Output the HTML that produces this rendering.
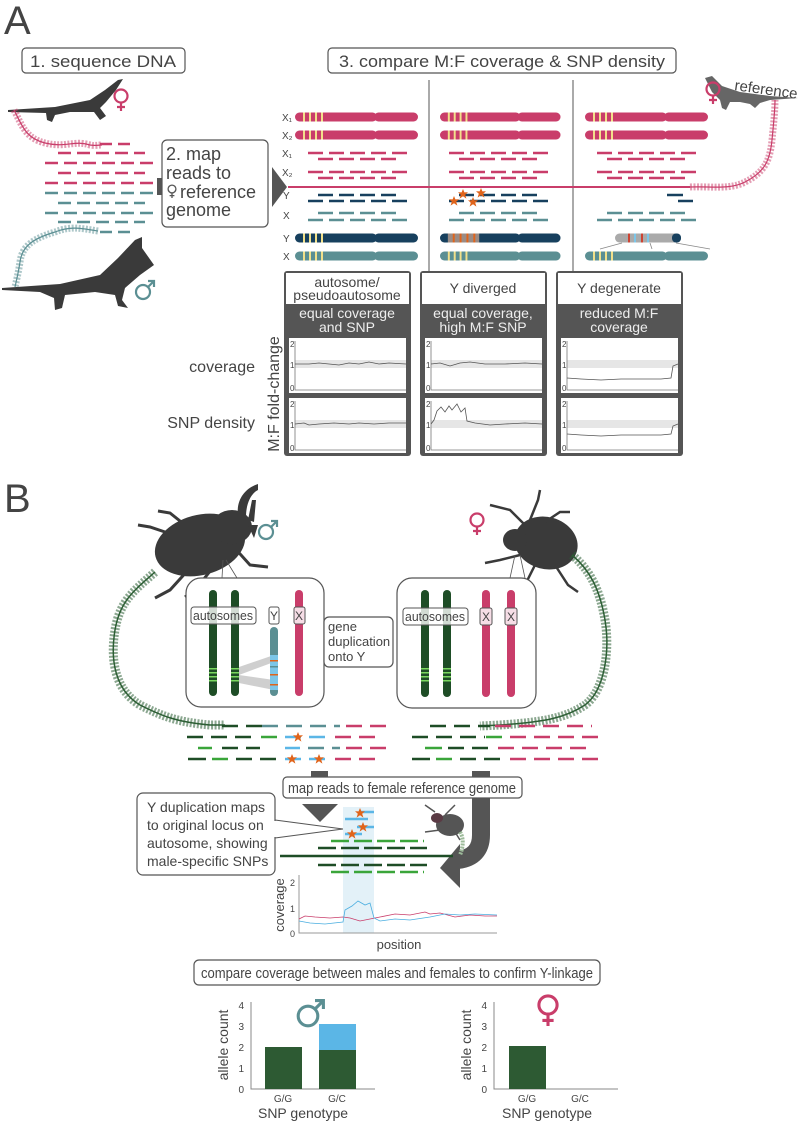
<!DOCTYPE html>
<html><head><meta charset="utf-8"><style>
html,body{margin:0;padding:0;background:#fff}
svg{display:block}
text{font-family:"Liberation Sans",sans-serif;fill:#444}
</style></head><body>
<svg width="800" height="1124" viewBox="0 0 800 1124" xmlns="http://www.w3.org/2000/svg">
<defs>
<g id="chr"><rect x="0" y="-4.5" width="82" height="9" rx="4.5"/><rect x="79" y="-4.5" width="44" height="9" rx="4.5"/></g>
<g id="bands"><rect x="8" y="-4.5" width="2" height="9" fill="#f2e08a"/><rect x="14" y="-4.5" width="2" height="9" fill="#f2e08a"/><rect x="20" y="-4.5" width="2" height="9" fill="#f2e08a"/><rect x="26" y="-4.5" width="2" height="9" fill="#f2e08a"/></g>
<path id="star" d="M0,-5 L1.4,-1.6 5,-1.8 2.2,0.8 3.4,4.6 0,2.3 -3.4,4.6 -2.2,0.8 -5,-1.8 -1.4,-1.6Z" fill="#e0641b"/>
<g id="fem" fill="none" stroke-width="2.2"><circle cx="0" cy="0" r="6.5"/><path d="M0,6.5 V15 M-4,11 H4"/></g>
<g id="mal" fill="none" stroke-width="2.2"><circle cx="0" cy="0" r="7"/><path d="M5,-5 L11,-11 M5,-11 H11 V-5"/></g>
</defs>

<!-- ===== A ===== -->
<text x="4" y="34" font-size="40" fill="#555">A</text>
<rect x="22" y="48" width="163" height="25" rx="4" fill="#fff" stroke="#555" stroke-width="1.2"/>
<text x="103" y="67" font-size="17" text-anchor="middle" textLength="146" lengthAdjust="spacingAndGlyphs">1. sequence DNA</text>
<rect x="328" y="48" width="348" height="25" rx="4" fill="#fff" stroke="#555" stroke-width="1.2"/>
<text x="502" y="67" font-size="17" text-anchor="middle" textLength="326" lengthAdjust="spacingAndGlyphs">3. compare M:F coverage &amp; SNP density</text>

<!-- female lizard -->
<path d="M8,110 L55,107 L90,100 L105,90 L118,80 L123,79 L116,90 L106,102 L100,108 L106,116 L100,120 L94,112 L70,112 L55,115 L52,122 L47,120 L46,113 L8,112Z" fill="#3a3a3a"/>
<use href="#fem" x="121" y="96" stroke="#c93d6a"/>
<!-- pink DNA -->
<path d="M14,110 C22,125 25,138 45,143 C65,148 75,140 90,145 C95,146 98,145 102,145" fill="none" stroke="#c93d6a" stroke-width="7" stroke-dasharray="2 1.5" opacity="0.5"/>
<path d="M14,110 C22,125 25,138 45,143 C65,148 75,140 90,145 C95,146 98,145 102,145" fill="none" stroke="#c93d6a" stroke-width="1.2"/>
<!-- left reads -->
<g stroke-width="2.5" fill="none">
<line x1="100" y1="144" x2="130" y2="144" stroke="#c93d6a" stroke-dasharray="12 6"/>
<line x1="58" y1="153" x2="145" y2="153" stroke="#c93d6a" stroke-dasharray="13 6"/>
<line x1="45" y1="163" x2="155" y2="163" stroke="#c93d6a" stroke-dasharray="13 6"/>
<line x1="58" y1="173" x2="145" y2="173" stroke="#c93d6a" stroke-dasharray="13 6"/>
<line x1="45" y1="183" x2="155" y2="183" stroke="#c93d6a" stroke-dasharray="13 6"/>
<line x1="45" y1="193" x2="155" y2="193" stroke="#5b8f93" stroke-dasharray="13 6"/>
<line x1="58" y1="203" x2="145" y2="203" stroke="#5b8f93" stroke-dasharray="13 6"/>
<line x1="45" y1="213" x2="155" y2="213" stroke="#5b8f93" stroke-dasharray="13 6"/>
<line x1="58" y1="222" x2="145" y2="222" stroke="#5b8f93" stroke-dasharray="13 6"/>
<line x1="100" y1="232" x2="130" y2="232" stroke="#5b8f93" stroke-dasharray="12 6"/>
</g>
<!-- teal DNA -->
<path d="M98,231 C80,228 70,226 55,232 C35,238 22,245 20,262 C18,275 16,282 15,287" fill="none" stroke="#5b8f93" stroke-width="7" stroke-dasharray="2 1.5" opacity="0.5"/>
<path d="M98,231 C80,228 70,226 55,232 C35,238 22,245 20,262 C18,275 16,282 15,287" fill="none" stroke="#5b8f93" stroke-width="1.2"/>
<!-- male lizard -->
<path d="M2,288 L60,284 L100,275 L118,258 L135,240 L142,237 L142,248 L154,265 L140,275 L125,288 L122,300 L128,308 L118,306 L115,295 L95,292 L65,295 L62,308 L55,310 L54,298 L40,292 L2,290Z" fill="#3a3a3a"/>
<use href="#mal" x="143" y="292" stroke="#5b8f93"/>

<!-- box 2 -->
<rect x="157" y="178" width="6" height="17" fill="#555"/>
<rect x="162" y="140" width="106" height="87" rx="5" fill="#fff" stroke="#555" stroke-width="1.2"/>
<text font-size="18"><tspan x="166" y="160">2. map</tspan><tspan x="166" y="179">reads to</tspan><tspan x="180" y="198">reference</tspan><tspan x="166" y="216">genome</tspan></text>
<use href="#fem" x="172" y="189" stroke="#555" transform="translate(172,189) scale(0.6) translate(-172,-189)"/>
<polygon points="272,167 287,187 272,207" fill="#555"/>

<!-- labels -->
<g font-size="10" fill="#444">
<text x="282" y="121">X₁</text><text x="282" y="139">X₂</text>
<text x="282" y="157">X₁</text><text x="282" y="176">X₂</text>
<text x="283" y="199">Y</text><text x="283" y="219">X</text>
<text x="283" y="242">Y</text><text x="283" y="260">X</text>
</g>
<line x1="429" y1="80" x2="429" y2="450" stroke="#555" stroke-width="1"/>
<line x1="573" y1="80" x2="573" y2="450" stroke="#555" stroke-width="1"/>

<!-- chromosomes -->
<g transform="translate(295,0)">
<use href="#chr" y="117" fill="#c93d6a"/><use href="#bands" y="117"/>
<use href="#chr" y="135" fill="#c93d6a"/><use href="#bands" y="135"/>
<use href="#chr" y="238" fill="#17405e"/><use href="#bands" y="238"/>
<use href="#chr" y="256" fill="#5b8f93"/><use href="#bands" y="256"/>
</g>
<g transform="translate(440,0) scale(0.98,1)">
<use href="#chr" y="117" fill="#c93d6a"/><use href="#bands" y="117"/>
<use href="#chr" y="135" fill="#c93d6a"/><use href="#bands" y="135"/>
<use href="#chr" y="238" fill="#17405e"/>
<rect x="8" y="233.5" width="32" height="9" fill="#9a8c86"/>
<rect x="13" y="233.5" width="2" height="9" fill="#e0641b"/><rect x="20" y="233.5" width="2" height="9" fill="#e0641b"/><rect x="27" y="233.5" width="2" height="9" fill="#e0641b"/><rect x="34" y="233.5" width="2" height="9" fill="#e0641b"/>
<use href="#chr" y="256" fill="#5b8f93"/><use href="#bands" y="256"/>
</g>
<g transform="translate(585,0)">
<use href="#chr" y="117" fill="#c93d6a"/><use href="#bands" y="117"/>
<use href="#chr" y="135" fill="#c93d6a"/><use href="#bands" y="135"/>
<use href="#chr" y="256" fill="#5b8f93"/><use href="#bands" y="256"/>
</g>
<rect x="615" y="233.5" width="66" height="9" rx="4.5" fill="#aaa"/>
<rect x="672" y="233.5" width="9" height="9" rx="4" fill="#17405e"/>
<rect x="628" y="233.5" width="2" height="9" fill="#c43"/><rect x="634" y="233.5" width="2" height="9" fill="#7cc6e8"/><rect x="641" y="233.5" width="2" height="9" fill="#c43"/><rect x="647" y="233.5" width="2" height="9" fill="#7cc6e8"/>
<path d="M622,243 L600,249 M650,243 L652,249 M676,243 L710,249" stroke="#888" stroke-width="0.8" fill="none"/>

<!-- A reads -->
<g stroke-width="2.5" fill="none" stroke-dasharray="15 6">
<g stroke="#c93d6a">
<line x1="308" y1="153" x2="408" y2="153"/><line x1="318" y1="159" x2="397" y2="159"/>
<line x1="308" y1="172" x2="408" y2="172"/><line x1="318" y1="178" x2="397" y2="178"/>
<line x1="449" y1="153" x2="549" y2="153"/><line x1="459" y1="159" x2="538" y2="159"/>
<line x1="449" y1="172" x2="549" y2="172"/><line x1="459" y1="178" x2="538" y2="178"/>
<line x1="597" y1="153" x2="697" y2="153"/><line x1="607" y1="159" x2="686" y2="159"/>
<line x1="597" y1="172" x2="697" y2="172"/><line x1="607" y1="178" x2="686" y2="178"/>
</g>
<g stroke="#17405e">
<line x1="318" y1="195" x2="397" y2="195"/><line x1="308" y1="201" x2="408" y2="201"/>
<line x1="459" y1="195" x2="538" y2="195"/><line x1="449" y1="201" x2="549" y2="201"/>
<line x1="667" y1="195" x2="683" y2="195" stroke-dasharray="none"/><line x1="678" y1="201" x2="693" y2="201" stroke-dasharray="none"/>
</g>
<g stroke="#5b8f93">
<line x1="318" y1="213" x2="397" y2="213"/><line x1="308" y1="220" x2="408" y2="220"/>
<line x1="459" y1="213" x2="538" y2="213"/><line x1="449" y1="220" x2="549" y2="220"/>
<line x1="607" y1="213" x2="686" y2="213"/><line x1="597" y1="220" x2="697" y2="220"/>
</g>
</g>
<use href="#star" x="454" y="201"/><use href="#star" x="463" y="194"/><use href="#star" x="473" y="202"/><use href="#star" x="481" y="193"/>
<!-- pink ref line -->
<line x1="288" y1="187" x2="690" y2="187" stroke="#c93d6a" stroke-width="2"/>
<path d="M690,187 C710,186 730,190 745,182 C765,172 770,160 772,140 C774,120 775,110 775,100" fill="none" stroke="#c93d6a" stroke-width="7" stroke-dasharray="2 1.5" opacity="0.5"/>
<path d="M690,187 C710,186 730,190 745,182 C765,172 770,160 772,140 C774,120 775,110 775,100" fill="none" stroke="#c93d6a" stroke-width="1.2"/>
<!-- reference lizard -->
<path d="M705,78 L712,76 L722,86 L740,92 L770,96 L798,98 L770,100 L760,103 L755,108 L750,104 L740,102 L730,102 L726,110 L722,108 L720,100 L712,92Z" fill="#666"/>
<text x="734" y="90" font-size="15" fill="#555" transform="rotate(8 734 90)">reference</text>
<use href="#fem" x="713" y="89" stroke="#c93d6a"/>

<!-- panels -->
<rect x="284" y="271" width="127" height="185" rx="3" fill="#555"/>
<rect x="286" y="273" width="123" height="31" fill="#fff"/>
<rect x="420" y="271" width="127" height="185" rx="3" fill="#555"/>
<rect x="422" y="273" width="123" height="31" fill="#fff"/>
<rect x="556" y="271" width="127" height="185" rx="3" fill="#555"/>
<rect x="558" y="273" width="123" height="31" fill="#fff"/>
<g font-size="14" text-anchor="middle" fill="#555">
<text x="347" y="287">autosome/</text><text x="347" y="300">pseudoautosome</text>
<text x="483" y="293">Y diverged</text>
<text x="619" y="293">Y degenerate</text>
</g>
<g font-size="14" text-anchor="middle">
<text x="347" y="318" style="fill:#eee">equal coverage</text><text x="347" y="332" style="fill:#eee">and SNP</text>
<text x="483" y="318" style="fill:#eee">equal coverage,</text><text x="483" y="332" style="fill:#eee">high M:F SNP</text>
<text x="619" y="318" style="fill:#eee">reduced M:F</text><text x="619" y="332" style="fill:#eee">coverage</text>
</g>
<g font-size="8" fill="#666">
<g transform="translate(289,338)"><rect width="117" height="55" fill="#fff"/><rect x="6" y="22" width="111" height="8" fill="#e6e6e6"/><path d="M6,3 V52 H117" stroke="#777" fill="none" stroke-width="0.8"/><text x="1" y="9">2</text><text x="1" y="30">1</text><text x="1" y="53">0</text>
<polyline points="6,26 20,26 30,25 40,26 50,27 60,25 70,26 80,24 90,26 100,25 117,26" fill="none" stroke="#555" stroke-width="0.8"/></g>
<g transform="translate(289,398)"><rect width="117" height="55" fill="#fff"/><rect x="6" y="22" width="111" height="8" fill="#e6e6e6"/><path d="M6,3 V52 H117" stroke="#777" fill="none" stroke-width="0.8"/><text x="1" y="9">2</text><text x="1" y="30">1</text><text x="1" y="53">0</text>
<polyline points="6,26 15,25 20,27 30,26 45,25 60,26 70,25 85,26 100,25 117,25" fill="none" stroke="#555" stroke-width="0.8"/></g>
<g transform="translate(425,338)"><rect width="117" height="55" fill="#fff"/><rect x="6" y="22" width="111" height="8" fill="#e6e6e6"/><path d="M6,3 V52 H117" stroke="#777" fill="none" stroke-width="0.8"/><text x="1" y="9">2</text><text x="1" y="30">1</text><text x="1" y="53">0</text>
<polyline points="6,26 15,25 25,28 35,25 45,24 60,26 80,26 100,25 117,26" fill="none" stroke="#555" stroke-width="0.8"/></g>
<g transform="translate(425,398)"><rect width="117" height="55" fill="#fff"/><rect x="6" y="22" width="111" height="8" fill="#e6e6e6"/><path d="M6,3 V52 H117" stroke="#777" fill="none" stroke-width="0.8"/><text x="1" y="9">2</text><text x="1" y="30">1</text><text x="1" y="53">0</text>
<polyline points="6,26 9,22 12,13 16,9 20,14 24,8 27,12 32,6 36,14 40,10 42,23 50,25 65,27 80,26 100,25 117,26" fill="none" stroke="#555" stroke-width="0.8"/></g>
<g transform="translate(561,338)"><rect width="117" height="55" fill="#fff"/><rect x="6" y="22" width="111" height="8" fill="#e6e6e6"/><path d="M6,3 V52 H117" stroke="#777" fill="none" stroke-width="0.8"/><text x="1" y="9">2</text><text x="1" y="30">1</text><text x="1" y="53">0</text>
<polyline points="6,40 20,41 40,42 60,41 80,41 100,41 110,40 112,28 117,26" fill="none" stroke="#555" stroke-width="0.8"/></g>
<g transform="translate(561,398)"><rect width="117" height="55" fill="#fff"/><rect x="6" y="22" width="111" height="8" fill="#e6e6e6"/><path d="M6,3 V52 H117" stroke="#777" fill="none" stroke-width="0.8"/><text x="1" y="9">2</text><text x="1" y="30">1</text><text x="1" y="53">0</text>
<polyline points="6,36 20,37 40,38 60,37 80,37 100,37 110,36 112,28 117,26" fill="none" stroke="#555" stroke-width="0.8"/></g>
</g>
<text x="255" y="372" font-size="16" text-anchor="end">coverage</text>
<text x="255" y="428" font-size="16" text-anchor="end">SNP density</text>
<text x="0" y="0" font-size="16" text-anchor="middle" transform="translate(279,394) rotate(-90)">M:F fold-change</text>

<!-- ===== B ===== -->
<text x="4" y="512" font-size="40" fill="#555">B</text>
<!-- male beetle -->
<g fill="#3a3a3a">
<ellipse cx="200" cy="545" rx="46" ry="30" transform="rotate(-15 200 545)"/>
<ellipse cx="232" cy="527" rx="20" ry="17"/>
<path d="M238,515 C236,500 245,488 258,484 L258,490 C250,494 246,505 246,517Z"/>
<path d="M248,520 L252,500 L256,500 L254,522Z"/>
<path d="M248,525 L258,525 L254,538Z"/>
<g stroke="#3a3a3a" stroke-width="3" fill="none">
<path d="M185,525 L170,513 L158,511"/><path d="M168,533 L150,527 L138,525"/>
<path d="M190,568 L170,590 L155,598"/><path d="M215,565 L195,590 L185,597"/>
<path d="M232,545 L250,565 L268,567"/>
</g>
</g>
<path d="M223,560 L222,578 M226,560 L237,578" stroke="#555" stroke-width="0.8"/>
<use href="#mal" x="266" y="532" stroke="#5b8f93"/>
<!-- female beetle -->
<g fill="#3a3a3a">
<ellipse cx="546" cy="543" rx="32" ry="26" transform="rotate(15 546 543)"/>
<ellipse cx="515" cy="540" rx="12" ry="11"/>
<g stroke="#3a3a3a" stroke-width="2.5" fill="none">
<path d="M525,525 L510,510 L490,505"/><path d="M530,520 L538,500 L540,490"/>
<path d="M545,522 L560,512 L570,512"/><path d="M520,555 L500,560 L485,563"/>
<path d="M535,565 L525,585 L526,592"/><path d="M555,565 L568,585 L578,592"/>
</g>
</g>
<path d="M515,555 L510,578 M520,555 L525,578" stroke="#555" stroke-width="0.8"/>
<use href="#fem" x="477" y="520" stroke="#c93d6a"/>
<!-- green DNA -->
<path d="M155,572 C135,590 120,600 115,630 C110,660 115,690 140,705 C160,715 175,722 210,725 L225,725" fill="none" stroke="#2c5e34" stroke-width="9" stroke-dasharray="2 1.5" opacity="0.55"/>
<path d="M155,572 C135,590 120,600 115,630 C110,660 115,690 140,705 C160,715 175,722 210,725 L225,725" fill="none" stroke="#2c5e34" stroke-width="1.5"/>
<path d="M572,555 C590,570 600,590 605,620 C610,650 605,690 585,705 C565,718 545,722 500,725 L480,726" fill="none" stroke="#2c5e34" stroke-width="9" stroke-dasharray="2 1.5" opacity="0.55"/>
<path d="M572,555 C590,570 600,590 605,620 C610,650 605,690 585,705 C565,718 545,722 500,725 L480,726" fill="none" stroke="#2c5e34" stroke-width="1.5"/>

<!-- male box -->
<rect x="186" y="578" width="138" height="129" rx="15" fill="#fff" stroke="#555" stroke-width="1.2"/>
<polygon points="239,667 274,655 274,662 239,675" fill="#bbb" opacity="0.7"/>
<polygon points="239,675 274,680 274,690 239,683" fill="#bbb" opacity="0.7"/>
<rect x="209" y="590" width="8" height="106" rx="4" fill="#1e4d26"/>
<rect x="231" y="590" width="8" height="106" rx="4" fill="#1e4d26"/>
<g fill="#7bd860"><rect x="209" y="668" width="8" height="1.5"/><rect x="209" y="672" width="8" height="1.5"/><rect x="209" y="676" width="8" height="1.5"/><rect x="209" y="680" width="8" height="1.5"/>
<rect x="231" y="668" width="8" height="1.5"/><rect x="231" y="672" width="8" height="1.5"/><rect x="231" y="676" width="8" height="1.5"/><rect x="231" y="680" width="8" height="1.5"/></g>
<rect x="270" y="627" width="8" height="69" rx="4" fill="#5b8f93"/>
<g><rect x="270" y="655" width="8" height="35" fill="#7cc6e8"/><rect x="270" y="660" width="8" height="1.5" fill="#e0641b"/><rect x="270" y="666" width="8" height="1.5" fill="#5b8f93"/><rect x="270" y="674" width="8" height="1.5" fill="#e0641b"/><rect x="270" y="684" width="8" height="1.5" fill="#e0641b"/></g>
<rect x="295" y="590" width="8" height="106" rx="4" fill="#c93d6a"/>
<rect x="191" y="607" width="65" height="17" rx="3" fill="#fff" fill-opacity="0.8" stroke="#555"/>
<text x="223" y="620" font-size="13" text-anchor="middle" textLength="60" lengthAdjust="spacingAndGlyphs">autosomes</text>
<rect x="269" y="607" width="10" height="17" rx="2" fill="#fff" stroke="#555"/><text x="274" y="620" font-size="12" text-anchor="middle">Y</text>
<rect x="294" y="607" width="11" height="17" rx="2" fill="#f6dde6" stroke="#555"/><text x="299" y="620" font-size="12" text-anchor="middle">X</text>
<rect x="324" y="617" width="69" height="50" rx="5" fill="#fff" stroke="#555" stroke-width="1.2"/>
<text font-size="13"><tspan x="328" y="631">gene</tspan><tspan x="328" y="646">duplication</tspan><tspan x="328" y="661">onto Y</tspan></text>

<!-- female box -->
<rect x="397" y="578" width="139" height="130" rx="15" fill="#fff" stroke="#555" stroke-width="1.2"/>
<rect x="421" y="590" width="8" height="107" rx="4" fill="#1e4d26"/>
<rect x="443" y="590" width="8" height="107" rx="4" fill="#1e4d26"/>
<g fill="#7bd860"><rect x="421" y="668" width="8" height="1.5"/><rect x="421" y="672" width="8" height="1.5"/><rect x="421" y="676" width="8" height="1.5"/><rect x="421" y="680" width="8" height="1.5"/>
<rect x="443" y="668" width="8" height="1.5"/><rect x="443" y="672" width="8" height="1.5"/><rect x="443" y="676" width="8" height="1.5"/><rect x="443" y="680" width="8" height="1.5"/></g>
<rect x="482" y="590" width="8" height="107" rx="4" fill="#c93d6a"/>
<rect x="507" y="590" width="8" height="107" rx="4" fill="#c93d6a"/>
<rect x="403" y="608" width="65" height="17" rx="3" fill="#fff" fill-opacity="0.8" stroke="#555"/>
<text x="435" y="621" font-size="13" text-anchor="middle" textLength="60" lengthAdjust="spacingAndGlyphs">autosomes</text>
<rect x="480" y="608" width="12" height="17" rx="2" fill="#f6dde6" stroke="#555"/><text x="486" y="621" font-size="12" text-anchor="middle">X</text>
<rect x="505" y="608" width="12" height="17" rx="2" fill="#f6dde6" stroke="#555"/><text x="511" y="621" font-size="12" text-anchor="middle">X</text>

<!-- B reads -->
<g stroke-width="2.5" fill="none">
<line x1="222" y1="726" x2="268" y2="726" stroke="#1e4d26" stroke-dasharray="16 8"/>
<line x1="262" y1="726" x2="340" y2="726" stroke="#5b8f93" stroke-dasharray="16 8"/>
<line x1="346" y1="726" x2="390" y2="726" stroke="#c93d6a" stroke-dasharray="16 8"/>
<line x1="187" y1="737" x2="258" y2="737" stroke="#1e4d26" stroke-dasharray="16 8"/>
<line x1="261" y1="737" x2="277" y2="737" stroke="#3aa53a"/>
<line x1="285" y1="737" x2="325" y2="737" stroke="#5bb6e6" stroke-dasharray="16 8"/>
<line x1="335" y1="737" x2="378" y2="737" stroke="#c93d6a" stroke-dasharray="16 8"/>
<line x1="198" y1="748" x2="212" y2="748" stroke="#3aa53a"/>
<line x1="222" y1="748" x2="260" y2="748" stroke="#1e4d26" stroke-dasharray="16 8"/>
<line x1="285" y1="748" x2="300" y2="748" stroke="#5bb6e6"/>
<line x1="308" y1="748" x2="340" y2="748" stroke="#5b8f93" stroke-dasharray="16 8"/>
<line x1="346" y1="748" x2="390" y2="748" stroke="#c93d6a" stroke-dasharray="16 8"/>
<line x1="188" y1="759" x2="206" y2="759" stroke="#1e4d26"/>
<line x1="212" y1="759" x2="228" y2="759" stroke="#3aa53a"/>
<line x1="236" y1="759" x2="278" y2="759" stroke="#1e4d26" stroke-dasharray="16 8"/>
<line x1="285" y1="759" x2="330" y2="759" stroke="#5bb6e6" stroke-dasharray="16 8"/>
<line x1="335" y1="759" x2="378" y2="759" stroke="#c93d6a" stroke-dasharray="16 8"/>
<line x1="430" y1="726" x2="490" y2="726" stroke="#1e4d26" stroke-dasharray="16 8"/>
<line x1="495" y1="726" x2="592" y2="726" stroke="#c93d6a" stroke-dasharray="16 8"/>
<line x1="412" y1="737" x2="485" y2="737" stroke="#1e4d26" stroke-dasharray="16 8"/>
<line x1="486" y1="737" x2="502" y2="737" stroke="#3aa53a"/>
<line x1="510" y1="737" x2="605" y2="737" stroke="#c93d6a" stroke-dasharray="16 8"/>
<line x1="425" y1="748" x2="442" y2="748" stroke="#3aa53a"/>
<line x1="448" y1="748" x2="490" y2="748" stroke="#1e4d26" stroke-dasharray="16 8"/>
<line x1="498" y1="748" x2="592" y2="748" stroke="#c93d6a" stroke-dasharray="16 8"/>
<line x1="412" y1="759" x2="430" y2="759" stroke="#1e4d26"/>
<line x1="436" y1="759" x2="452" y2="759" stroke="#3aa53a"/>
<line x1="460" y1="759" x2="505" y2="759" stroke="#1e4d26" stroke-dasharray="16 8"/>
<line x1="510" y1="759" x2="605" y2="759" stroke="#c93d6a" stroke-dasharray="16 8"/>
</g>
<use href="#star" x="298" y="737"/><use href="#star" x="292" y="759"/><use href="#star" x="319" y="759"/>

<!-- arrows -->
<rect x="311" y="771" width="17" height="8" fill="#555"/>
<polygon points="302,804 338,804 320,822" fill="#555"/>
<path d="M481,771 L481,835 Q481,857 458,860" fill="none" stroke="#555" stroke-width="18"/>
<polygon points="460,844 460,888 440,868" fill="#555"/>
<rect x="283" y="777" width="239" height="21" rx="4" fill="#fff" stroke="#555" stroke-width="1.2"/>
<text x="402" y="793" font-size="15" text-anchor="middle" textLength="228" lengthAdjust="spacingAndGlyphs">map reads to female reference genome</text>

<!-- callout -->
<path d="M275,820 L343,829 L275,838" fill="#fff" stroke="#555" stroke-width="1"/>
<rect x="137" y="793" width="138" height="82" rx="6" fill="#fff" stroke="#555" stroke-width="1.2"/>
<rect x="274" y="821" width="3" height="16" fill="#fff"/>
<text font-size="14"><tspan x="147" y="812">Y duplication maps</tspan><tspan x="147" y="830">to original locus on</tspan><tspan x="147" y="848">autosome, showing</tspan><tspan x="147" y="866">male-specific SNPs</tspan></text>

<rect x="343" y="807" width="31" height="126" fill="#dcedf6" opacity="0.8"/>
<g stroke-width="2.5" fill="none">
<line x1="359" y1="812" x2="374" y2="812" stroke="#5bb6e6"/>
<line x1="345" y1="819" x2="368" y2="819" stroke="#5bb6e6"/>
<line x1="357" y1="827" x2="374" y2="827" stroke="#5bb6e6"/>
<line x1="345" y1="834" x2="362" y2="834" stroke="#5bb6e6"/>
<line x1="331" y1="841" x2="424" y2="841" stroke="#3aa53a" stroke-dasharray="18 5"/>
<line x1="318" y1="848" x2="427" y2="848" stroke="#1e4d26" stroke-dasharray="18 5"/>
<line x1="280" y1="856" x2="453" y2="856" stroke="#1e4d26"/>
<line x1="318" y1="865" x2="427" y2="865" stroke="#1e4d26" stroke-dasharray="18 5"/>
<line x1="331" y1="872" x2="424" y2="872" stroke="#3aa53a" stroke-dasharray="18 5"/>
</g>
<use href="#star" x="360" y="813"/><use href="#star" x="363" y="827"/><use href="#star" x="352" y="834"/>
<!-- small beetle -->
<ellipse cx="450" cy="825" rx="14" ry="11" fill="#555"/><ellipse cx="437" cy="818" rx="6" ry="5" fill="#5a3a44"/>
<path d="M435,812 L425,805 M445,815 L455,805 M440,830 L425,832 M455,832 L460,840" stroke="#555" stroke-width="1.5"/>
<path d="M460,832 C465,840 462,850 460,855" stroke="#9dbb9a" stroke-width="4" fill="none" stroke-dasharray="2 1"/>

<!-- coverage plot -->
<path d="M299,875 V933 H497" stroke="#999" fill="none" stroke-width="1"/>
<g font-size="9" fill="#777"><text x="290" y="886">2</text><text x="290" y="912">1</text><text x="290" y="937">0</text></g>
<text x="0" y="0" font-size="13" text-anchor="middle" transform="translate(284,905) rotate(-90)">coverage</text>
<text x="399" y="949" font-size="13" text-anchor="middle">position</text>
<polyline points="299,919 305,916 315,917 330,918 343,917 350,918 360,921 370,919 380,917 395,914 410,915 425,912 430,914 440,913 455,917 470,915 485,916 497,916" fill="none" stroke="#c93d6a" stroke-width="0.8"/>
<polyline points="299,921 310,923 325,924 343,922 345,910 352,906 358,901 365,905 370,903 374,918 380,921 395,919 410,920 430,917 445,914 460,915 475,914 497,915" fill="none" stroke="#4aaee0" stroke-width="0.8"/>

<!-- compare box -->
<rect x="194" y="960" width="406" height="25" rx="5" fill="#fff" stroke="#555" stroke-width="1.2"/>
<text x="397" y="978" font-size="15" text-anchor="middle" textLength="392" lengthAdjust="spacingAndGlyphs">compare coverage between males and females to confirm Y-linkage</text>

<!-- bar charts -->
<g font-size="10" fill="#888">
<path d="M251,1002 V1089 H375" stroke="#888" fill="none"/>
<text x="244" y="1093" text-anchor="end">0</text><text x="244" y="1072" text-anchor="end">1</text><text x="244" y="1051" text-anchor="end">2</text><text x="244" y="1030" text-anchor="end">3</text><text x="244" y="1009" text-anchor="end">4</text>
<rect x="265" y="1047" width="37" height="42" fill="#2d5a33"/>
<rect x="319" y="1024" width="37" height="26" fill="#5bb6e6"/>
<rect x="319" y="1050" width="37" height="39" fill="#2d5a33"/>
<text x="283" y="1102" text-anchor="middle">G/G</text><text x="337" y="1102" text-anchor="middle">G/C</text>
<path d="M494,1002 V1089 H618" stroke="#888" fill="none"/>
<text x="487" y="1093" text-anchor="end">0</text><text x="487" y="1072" text-anchor="end">1</text><text x="487" y="1051" text-anchor="end">2</text><text x="487" y="1030" text-anchor="end">3</text><text x="487" y="1009" text-anchor="end">4</text>
<rect x="509" y="1046" width="37" height="43" fill="#2d5a33"/>
<text x="527" y="1102" text-anchor="middle">G/G</text><text x="580" y="1102" text-anchor="middle">G/C</text>
</g>
<text x="303" y="1118" font-size="14" text-anchor="middle">SNP genotype</text>
<text x="547" y="1118" font-size="14" text-anchor="middle">SNP genotype</text>
<text x="0" y="0" font-size="14" text-anchor="middle" transform="translate(228,1045) rotate(-90)">allele count</text>
<text x="0" y="0" font-size="14" text-anchor="middle" transform="translate(471,1045) rotate(-90)">allele count</text>
<use href="#mal" x="308" y="1016" stroke="#5b8f93" transform="translate(308,1016) scale(1.4) translate(-308,-1016)"/>
<use href="#fem" x="548" y="1005" stroke="#c93d6a" transform="translate(548,1005) scale(1.4) translate(-548,-1005)"/>
</svg>
</body></html>
